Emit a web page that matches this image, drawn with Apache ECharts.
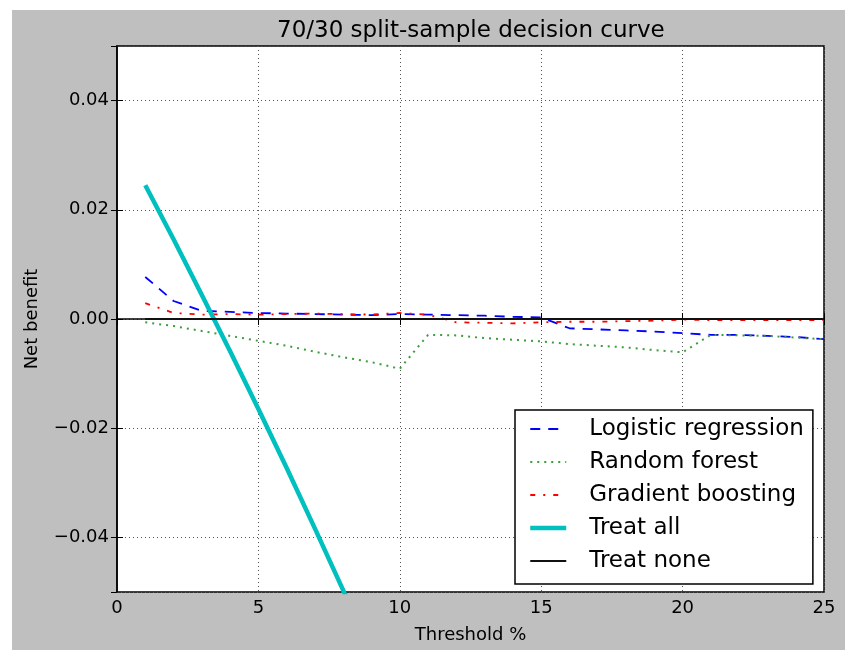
<!DOCTYPE html>
<html>
<head>
<meta charset="utf-8">
<script src="https://cdn.jsdelivr.net/npm/echarts@6/dist/echarts.min.js"></script>
<style>
html, body { margin: 0; padding: 0; background: #fff; }
#main { position: absolute; left: 12px; top: 10px; width: 833px; height: 640px; }
</style>
</head>
<body>
<div id="main"></div>
<script>
// threshold % on the x axis
var thresholds = [1, 2, 3, 4, 5, 6, 7, 8, 9, 10, 11, 12, 13, 14, 15, 16, 17, 18, 19, 20, 21, 22, 23, 24, 25];
var logistic = [0.0077, 0.0033, 0.0015, 0.0013, 0.0011, 0.0010, 0.0009, 0.0008, 0.0007, 0.0009, 0.0008, 0.0007, 0.0006, 0.0004, 0.0003,
  -0.0017, -0.0019, -0.0021, -0.0023, -0.0026, -0.0029, -0.0029, -0.0031, -0.0033, -0.0037];
var forest = [-0.0006, -0.0013, -0.0022, -0.0031, -0.0040, -0.0049, -0.0060, -0.0070, -0.0079, -0.0091, -0.0029, -0.0030, -0.0035, -0.0038, -0.0041,
  -0.0046, -0.0049, -0.0052, -0.0057, -0.0061, -0.0029, -0.0030, -0.0031, -0.0034, -0.0037];
var boosting = [0.0029, 0.0011, 0.0008, 0.0009, 0.0008, 0.0009, 0.0010, 0.0009, 0.0008, 0.0011, 0.0008, -0.0006, -0.0007, -0.0008, -0.0006,
  -0.0005, -0.0005, -0.0004, -0.0003, -0.0001, -0.0002, -0.0002, -0.0002, -0.0002, -0.0002];
var treatAllX = [1, 2, 3, 4, 5, 6, 7, 8, 9];
var treatAll = [0.0245, 0.0146, 0.0044, -0.0059, -0.0165, -0.0273, -0.0384, -0.0497, -0.0612];
var treatNone = [0, 0, 0, 0, 0, 0, 0, 0, 0, 0, 0, 0, 0, 0, 0, 0, 0, 0, 0, 0, 0, 0, 0, 0, 0];

var names = ['Logistic regression', 'Random forest', 'Gradient boosting', 'Treat all', 'Treat none'];
var font = 'DejaVu Sans';

function pairs(xs, ys) {
  var out = [];
  for (var i = 0; i < ys.length; i++) out.push([xs[i], ys[i]]);
  return out;
}

var styles = [
  { color: '#0000ff', width: 1.8, type: [10, 8] },
  { color: '#3a9e3a', width: 2, type: [2, 5] },
  { color: '#ff0000', width: 1.8, type: [5, 8, 2, 8] },
  { color: '#00bfbf', width: 4.5, type: 'solid' },
  { color: '#111111', width: 2, type: 'solid' }
];

var chart = echarts.init(document.getElementById('main'));

var grid = { left: 105, top: 36, width: 707, height: 546, show: true, borderColor: '#000', borderWidth: 1.5, backgroundColor: '#fff' };

var option = {
  backgroundColor: '#bfbfbf',
  animation: false,
  grid: grid,
  graphic: [{
    type: 'text', left: 265, top: 10,
    style: { text: '70/30 split-sample decision curve', fontFamily: font, fontSize: 23, fill: '#000' }
  }],
  xAxis: [{
    type: 'value', min: 0, max: 25, interval: 5,
    name: 'Threshold %', nameLocation: 'middle', nameGap: 34,
    nameTextStyle: { fontFamily: font, fontSize: 18, color: '#000' },
    axisLine: { lineStyle: { color: '#000', width: 1.5 } },
    axisTick: { inside: true, length: 6, lineStyle: { color: '#000' } },
    axisLabel: { fontFamily: font, fontSize: 18, color: '#000', margin: 7 },
    splitLine: { show: true, lineStyle: { color: '#555', width: 1, type: [1, 3] } }
  }, {
    type: 'value', position: 'top', min: 0, max: 25, interval: 5,
    axisLine: { show: false },
    axisTick: { inside: true, length: 6, lineStyle: { color: '#000' } },
    axisLabel: { show: false }, splitLine: { show: false }
  }],
  yAxis: [{
    type: 'value', min: -0.05, max: 0.05, splitNumber: 5,
    name: 'Net benefit', nameLocation: 'middle', nameGap: 76,
    nameTextStyle: { fontFamily: font, fontSize: 18, color: '#000' },
    axisLine: { show: true, lineStyle: { color: '#000', width: 1.5 } },
    axisTick: { show: true, inside: true, length: 6, lineStyle: { color: '#000' } },
    axisLabel: {
      fontFamily: font, fontSize: 18, color: '#000', margin: 8,
      showMinLabel: false, showMaxLabel: false,
      formatter: function (v) { return (v < -1e-9 ? '\u2212' : '') + Math.abs(v).toFixed(2); }
    },
    splitLine: { show: true, lineStyle: { color: '#555', width: 1, type: [1, 3] } }
  }, {
    type: 'value', position: 'right', min: -0.05, max: 0.05, splitNumber: 5,
    axisLine: { show: false },
    axisTick: { show: true, inside: true, length: 6, lineStyle: { color: '#000' } },
    axisLabel: { show: false }, splitLine: { show: false }
  }],
  legend: {
    orient: 'vertical', left: 503, top: 400,
    backgroundColor: '#fff', borderColor: '#000', borderWidth: 1.5, borderRadius: 0,
    padding: [6, 9, 10, 13],
    itemWidth: 36, itemHeight: 14, itemGap: 7,
    itemStyle: { opacity: 0 },
    textStyle: { fontFamily: font, fontSize: 23, color: '#000', lineHeight: 26, padding: [0, 0, 0, 18] },
    data: names.map(function (n, i) {
      return { name: n, itemStyle: { opacity: 0 }, lineStyle: { color: styles[i].color, width: styles[i].width, type: styles[i].type } };
    })
  },
  series: [
    { name: names[0], data: pairs(thresholds, logistic) },
    { name: names[1], data: pairs(thresholds, forest) },
    { name: names[2], data: pairs(thresholds, boosting) },
    { name: names[3], data: pairs(treatAllX, treatAll) },
    { name: names[4], data: pairs(thresholds, treatNone) }
  ].map(function (s, i) {
    s.type = 'line';
    s.symbol = 'none';
    s.clip = true;
    s.color = styles[i].color;
    s.lineStyle = { color: styles[i].color, width: styles[i].width, type: styles[i].type };
    s.z = i == 4 ? 3 : 2;
    return s;
  })
};

chart.setOption(option);
</script>
</body>
</html>
